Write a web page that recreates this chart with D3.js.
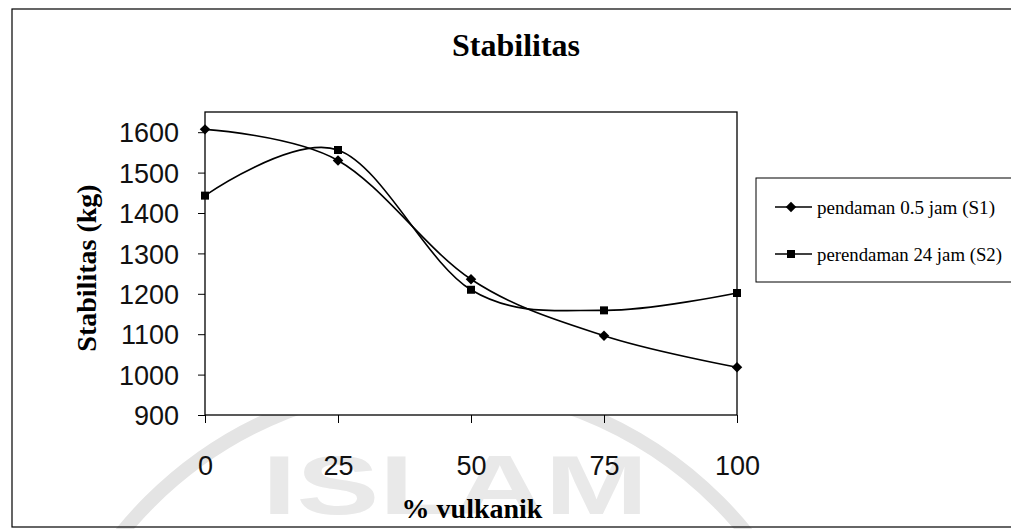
<!DOCTYPE html>
<html>
<head>
<meta charset="utf-8">
<script src="https://cdn.jsdelivr.net/npm/d3@7/dist/d3.min.js"></script>
<style>
  html, body { margin: 0; padding: 0; background: #fff; }
  svg { display: block; }
</style>
</head>
<body>
<svg id="chart" width="1011" height="529"></svg>
<script>
// Data
const vulkanik = [0, 25, 50, 75, 100];
const s1Values = [1607, 1530, 1236, 1096, 1018];   // pendaman 0.5 jam (S1)
const s2Values = [1443, 1556, 1210, 1159, 1202];   // perendaman 24 jam (S2)
const yTicks = [900, 1000, 1100, 1200, 1300, 1400, 1500, 1600];
const xTicks = [0, 25, 50, 75, 100];
const seriesNames = ["pendaman 0.5 jam (S1)", "perendaman 24 jam (S2)"];
const seriesMarkers = ["diamond", "square"];

const svg = d3.select("#chart");
const serif = "'Liberation Serif', 'Times New Roman', serif";
const sans = "'Liberation Sans', Arial, sans-serif";

const plot = { left: 205, right: 737, top: 112, bottom: 415 };
const x = d3.scaleLinear().domain([0, 100]).range([plot.left, plot.right]);
const y = d3.scaleLinear().domain([900, 1650]).range([plot.bottom, plot.top]);

// Faint background emblem (ring + lettering), mostly hidden behind the plot area
svg.append("circle")
  .attr("cx", 434).attr("cy", 786).attr("r", 402)
  .attr("fill", "none").attr("stroke", "#e4e4e4").attr("stroke-width", 14);
svg.append("text")
  .attr("x", 262).attr("y", 514)
  .attr("font-family", sans).attr("font-weight", "bold")
  .attr("font-size", 84)
  .attr("textLength", 386).attr("lengthAdjust", "spacingAndGlyphs")
  .attr("fill", "#e9e9e9").attr("stroke", "none")
  .text("ISLAM");

// Outer chart frame
svg.append("rect")
  .attr("x", 12).attr("y", 9).attr("width", 1010).attr("height", 518)
  .attr("fill", "none").attr("stroke", "#000").attr("stroke-width", 1.2);

// Title
svg.append("text")
  .attr("x", 516).attr("y", 56)
  .attr("text-anchor", "middle")
  .attr("font-family", serif).attr("font-weight", "bold").attr("font-size", 32)
  .text("Stabilitas");

// Plot area
svg.append("rect")
  .attr("x", plot.left).attr("y", plot.top)
  .attr("width", plot.right - plot.left).attr("height", plot.bottom - plot.top)
  .attr("fill", "#fff").attr("stroke", "#000").attr("stroke-width", 1.3);

// Y axis
const yAxis = svg.append("g")
  .attr("transform", `translate(${plot.left},0)`)
  .call(d3.axisLeft(y).tickValues(yTicks).tickSize(7).tickPadding(19).tickFormat(d3.format("d")));
yAxis.select(".domain").remove();
yAxis.selectAll("line").attr("stroke", "#000").attr("stroke-width", 1);
yAxis.selectAll("text")
  .attr("font-family", sans).attr("font-size", 27).attr("fill", "#111")
  .attr("dy", "0.36em");

// X axis
const xAxis = svg.append("g")
  .attr("transform", `translate(0,${plot.bottom})`)
  .call(d3.axisBottom(x).tickValues(xTicks).tickSize(8).tickPadding(52).tickFormat(d3.format("d")));
xAxis.select(".domain").remove();
xAxis.selectAll("line").attr("stroke", "#000").attr("stroke-width", 1);
xAxis.selectAll("text")
  .attr("font-family", sans).attr("font-size", 27).attr("fill", "#111")
  .attr("dy", "0");

// Axis titles
svg.append("text")
  .attr("transform", "translate(96,268) rotate(-90)")
  .attr("text-anchor", "middle")
  .attr("font-family", serif).attr("font-weight", "bold").attr("font-size", 28)
  .text("Stabilitas (kg)");
svg.append("text")
  .attr("x", 472).attr("y", 518)
  .attr("text-anchor", "middle")
  .attr("font-family", serif).attr("font-weight", "bold").attr("font-size", 28)
  .text("% vulkanik");

// Series lines and markers
const line = d3.line()
  .x((d, i) => x(vulkanik[i]))
  .y(d => y(d))
  .curve(d3.curveCardinal.tension(0));

const symbolFor = m => m === "diamond"
  ? d3.symbol().type(d3.symbolDiamond2).size(70)
  : d3.symbol().type(d3.symbolSquare).size(64);

[s1Values, s2Values].forEach((vals, k) => {
  svg.append("path")
    .datum(vals)
    .attr("d", line)
    .attr("fill", "none").attr("stroke", "#000").attr("stroke-width", 1.6);
  svg.append("g").selectAll("path")
    .data(vals)
    .join("path")
    .attr("transform", (d, i) => `translate(${x(vulkanik[i])},${y(d)})`)
    .attr("d", symbolFor(seriesMarkers[k]))
    .attr("fill", "#000");
});

// Legend
const legend = svg.append("g");
legend.append("rect")
  .attr("x", 756).attr("y", 178).attr("width", 270).attr("height", 104)
  .attr("fill", "#fff").attr("stroke", "#000").attr("stroke-width", 1);
const rowsY = [207, 254];
seriesNames.forEach((name, k) => {
  const g = legend.append("g").attr("transform", `translate(0,${rowsY[k]})`);
  g.append("line").attr("x1", 775).attr("x2", 812).attr("y1", 0).attr("y2", 0)
    .attr("stroke", "#000").attr("stroke-width", 1.6);
  g.append("path").attr("transform", "translate(791,0)")
    .attr("d", symbolFor(seriesMarkers[k])).attr("fill", "#000");
  g.append("text")
    .attr("x", 817).attr("y", 7)
    .attr("font-family", serif).attr("font-size", 19)
    .attr("textLength", k === 0 ? 178 : 185).attr("lengthAdjust", "spacingAndGlyphs")
    .text(name);
});
</script>
</body>
</html>
